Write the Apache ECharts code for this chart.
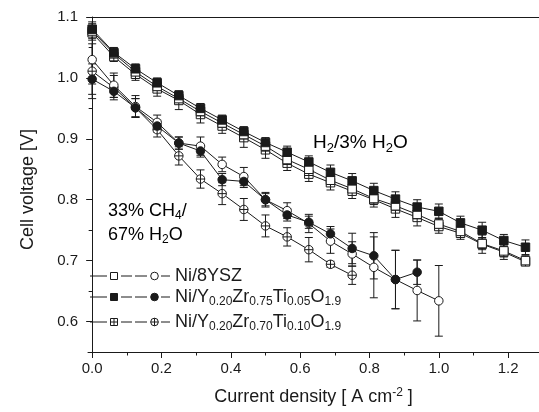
<!DOCTYPE html>
<html><head><meta charset="utf-8">
<script src="https://cdn.jsdelivr.net/npm/echarts@6/dist/echarts.min.js"></script>
<style>html,body{margin:0;padding:0;background:#fff}#c{width:539px;height:412px}</style>
</head><body><div id="c"></div>
<script>
// ---- data ----
const currentDensity = [0, 0.0625, 0.125, 0.1875, 0.25, 0.3125, 0.375, 0.4375, 0.5, 0.5625, 0.625, 0.6875, 0.75, 0.8125, 0.875, 0.9375, 1.0, 1.0625, 1.125, 1.1875, 1.25];

// H2 / 3% H2O
const h2Ysz    = [1.077, 1.040, 1.010, 0.986, 0.966, 0.945, 0.926, 0.907, 0.888, 0.866, 0.850, 0.832, 0.818, 0.802, 0.790, 0.776, 0.760, 0.748, 0.728, 0.716, 0.700];
const h2Yzt05  = [1.080, 1.042, 1.015, 0.992, 0.971, 0.950, 0.931, 0.912, 0.894, 0.878, 0.862, 0.845, 0.831, 0.815, 0.801, 0.788, 0.781, 0.762, 0.750, 0.733, 0.722];
const h2Yzt10  = [1.074, 1.035, 1.006, 0.982, 0.963, 0.940, 0.921, 0.902, 0.882, 0.860, 0.842, 0.828, 0.814, 0.800, 0.785, 0.771, 0.756, 0.745, 0.727, 0.714, 0.698];
const h2YszErr   = [0.012, 0.006, 0.006, 0.006, 0.006, 0.006, 0.006, 0.006, 0.006, 0.008, 0.008, 0.010, 0.010, 0.010, 0.010, 0.010, 0.010, 0.010, 0.010, 0.010, 0.008];
const h2Yzt05Err = [0.012, 0.008, 0.008, 0.008, 0.008, 0.008, 0.008, 0.008, 0.008, 0.010, 0.010, 0.012, 0.012, 0.012, 0.012, 0.012, 0.012, 0.011, 0.013, 0.010, 0.012];
const h2Yzt10Err = [0.012, 0.008, 0.010, 0.012, 0.015, 0.014, 0.012, 0.016, 0.014, 0.012, 0.012, 0.012, 0.012, 0.012, 0.014, 0.014, 0.011, 0.010, 0.015, 0.012, 0.006];

// 33% CH4 / 67% H2O
const ch4Ysz    = [1.030, 0.988, 0.953, 0.927, 0.893, 0.888, 0.858, 0.838, 0.800, 0.782, 0.761, 0.732, 0.711, 0.689, 0.669, 0.651, 0.634];
const ch4Yzt05  = [0.998, 0.978, 0.951, 0.921, 0.893, 0.880, 0.833, 0.830, 0.800, 0.775, 0.763, 0.744, 0.720, 0.708, 0.669, 0.681];
const ch4Yzt10  = [1.011, 0.984, 0.951, 0.915, 0.872, 0.834, 0.810, 0.784, 0.757, 0.739, 0.718, 0.694, 0.676];
const ch4YszErr   = [0.040, 0.020, 0.018, 0.012, 0.010, 0.015, 0.012, 0.015, 0.012, 0.013, 0.015, 0.020, 0.020, 0.050, 0.048, 0.050, 0.058];
const ch4Yzt05Err = [0.025, 0.010, 0.015, 0.010, 0.010, 0.010, 0.010, 0.010, 0.010, 0.010, 0.010, 0.012, 0.025, 0.038, 0.048, 0.020];
const ch4Yzt10Err = [0.045, 0.020, 0.015, 0.012, 0.015, 0.015, 0.018, 0.018, 0.018, 0.015, 0.020, 0.005, 0.015];

const xTickValues = [0, 0.2, 0.4, 0.6, 0.8, 1.0, 1.2];
const xMinorValues = [0.1, 0.3, 0.5, 0.7, 0.9, 1.1];
const yTickValues = [0.6, 0.7, 0.8, 0.9, 1.0, 1.1];
const yMinorValues = [0.65, 0.75, 0.85, 0.95, 1.05];

const legendLabels = [
  'Ni/8YSZ',
  'Ni/Y{s|0.20}Zr{s|0.75}Ti{s|0.05}O{s|1.9}',
  'Ni/Y{s|0.20}Zr{s|0.70}Ti{s|0.10}O{s|1.9}'
];
const h2Label = '{n|H}{s|2}{n|/3% H}{s|2}{n|O}';
const ch4Label1 = '{n|33% CH}{s|4}{n|/}';
const ch4Label2 = '{n|67% H}{s|2}{n|O}';
const xTitle = 'Current density [ A cm{p|-2} ]';
const yTitle = 'Cell voltage [V]';

// ---- rendering ----
const FONT = '"Liberation Sans", Arial, Helvetica, sans-serif';
const INK = '#1a1a1a';
function richSub(size) {
  return {
    n: {fontSize: size, fontFamily: FONT, color: INK},
    s: {fontSize: Math.round(size * 0.67), fontFamily: FONT, color: INK, padding: [10, 0, 0, 0]}
  };
}

const crossSquare = 'path://M0,0L10,0L10,10L0,10Z M0,3.4L10,3.4 M0,6.6L10,6.6 M5,0L5,10';
const crossCircle = 'path://M10,5A5,5,0,1,1,0,5A5,5,0,1,1,10,5Z M5,0L5,10 M0,5L10,5';

function pairs(vals) { return vals.map((v, i) => [currentDensity[i], v]); }

function lineSeries(vals, symbol, fill) {
  return {
    type: 'line', data: pairs(vals), symbol: symbol, symbolSize: 8.5,
    showAllSymbol: true, z: 5, animation: false, silent: true,
    lineStyle: {color: INK, width: 1},
    itemStyle: {color: fill, borderColor: INK, borderWidth: 1}
  };
}

function errSeries(vals, errs) {
  const data = vals.map((v, i) => [currentDensity[i], v - errs[i], v + errs[i]]);
  return {
    type: 'custom', data: data, z: 3, animation: false, silent: true,
    encode: {x: 0, y: [1, 2]},
    renderItem: function (params, api) {
      const x = api.value(0);
      const p1 = api.coord([x, api.value(2)]);
      const p2 = api.coord([x, api.value(1)]);
      const w = 4;
      const st = {stroke: INK, lineWidth: 1};
      return {type: 'group', children: [
        {type: 'line', shape: {x1: p1[0], y1: p1[1], x2: p2[0], y2: p2[1]}, style: st},
        {type: 'line', shape: {x1: p1[0] - w, y1: p1[1], x2: p1[0] + w, y2: p1[1]}, style: st},
        {type: 'line', shape: {x1: p2[0] - w, y1: p2[1], x2: p2[0] + w, y2: p2[1]}, style: st}
      ]};
    }
  };
}

// legend graphics
function legendRow(y, kind, label) {
  const st = {stroke: INK, lineWidth: 1};
  const els = [
    {type: 'line', shape: {x1: 90, y1: y, x2: 107, y2: y}, style: st},
    {type: 'line', shape: {x1: 121, y1: y, x2: 132, y2: y}, style: st},
    {type: 'line', shape: {x1: 135, y1: y, x2: 147, y2: y}, style: st},
    {type: 'line', shape: {x1: 161, y1: y, x2: 170, y2: y}, style: st}
  ];
  const sq = {type: 'rect', shape: {x: 110.5, y: y - 3.5, width: 7, height: 7},
    style: {fill: kind === 'filled' ? INK : '#fff', stroke: INK, lineWidth: 1}};
  const ci = {type: 'circle', shape: {cx: 154.5, cy: y, r: 3.8},
    style: {fill: kind === 'filled' ? INK : '#fff', stroke: INK, lineWidth: 1}};
  els.push(sq, ci);
  if (kind === 'cross') {
    els.push({type: 'line', shape: {x1: 114, y1: y - 3.5, x2: 114, y2: y + 3.5}, style: st});
    els.push({type: 'line', shape: {x1: 110.5, y1: y, x2: 117.5, y2: y}, style: st});
    els.push({type: 'line', shape: {x1: 154.5, y1: y - 3.8, x2: 154.5, y2: y + 3.8}, style: st});
    els.push({type: 'line', shape: {x1: 150.7, y1: y, x2: 158.3, y2: y}, style: st});
  }
  els.push({type: 'text', x: 175, y: y,
    style: {text: label, rich: richSub(18), fontSize: 18, fontFamily: FONT, fill: INK, verticalAlign: 'middle', align: 'left'}});
  return els;
}

const legendKinds = ['open', 'filled', 'cross'];
const legendYs = [276, 297, 322];
let graphics = [];
legendKinds.forEach((k, i) => { graphics = graphics.concat(legendRow(legendYs[i], k, legendLabels[i])); });
graphics.push({type: 'text', x: 313, y: 143,
  style: {text: h2Label, rich: richSub(19), fontFamily: FONT, verticalAlign: 'middle', align: 'left'}});
graphics.push({type: 'text', x: 108, y: 211,
  style: {text: ch4Label1, rich: richSub(18), fontFamily: FONT, verticalAlign: 'middle', align: 'left'}});
graphics.push({type: 'text', x: 108, y: 235,
  style: {text: ch4Label2, rich: richSub(18), fontFamily: FONT, verticalAlign: 'middle', align: 'left'}});

const axisLineStyle = {show: true, lineStyle: {color: INK, width: 1}};
const chart = echarts.init(document.getElementById('c'), null, {renderer: 'canvas'});
chart.setOption({
  animation: false,
  backgroundColor: '#fff',
  textStyle: {fontFamily: FONT},
  grid: {left: 88, top: 17, right: 0, bottom: 60, containLabel: false},
  xAxis: [
    {type: 'value', min: -0.012, max: 1.289, position: 'bottom',
      axisLine: axisLineStyle, splitLine: {show: false},
      axisTick: {show: true, inside: false, length: 6, lineStyle: {color: INK}, customValues: xTickValues},
      axisLabel: {show: true, margin: 9, fontSize: 15, color: INK, fontFamily: FONT,
        customValues: xTickValues, formatter: v => v.toFixed(1)},
      name: xTitle, nameLocation: 'middle', nameGap: 35,
      nameTextStyle: {fontSize: 18, color: INK, fontFamily: FONT,
        rich: {p: {fontSize: 12, color: INK, fontFamily: FONT, padding: [0, 0, 9, 0]}}}},
    {type: 'value', min: -0.012, max: 1.289, position: 'bottom',
      axisLine: {show: false}, splitLine: {show: false}, axisLabel: {show: false},
      axisTick: {show: true, length: 3.5, lineStyle: {color: INK}, customValues: xMinorValues}},
    {type: 'value', min: -0.012, max: 1.289, position: 'top',
      axisLine: axisLineStyle, splitLine: {show: false}, axisLabel: {show: false}, axisTick: {show: false}}
  ],
  yAxis: [
    {type: 'value', min: 0.55, max: 1.1, position: 'left',
      axisLine: axisLineStyle, splitLine: {show: false},
      axisTick: {show: true, length: 6, lineStyle: {color: INK}, customValues: yTickValues},
      axisLabel: {show: true, margin: 10, fontSize: 15, color: INK, fontFamily: FONT,
        customValues: yTickValues, formatter: v => v.toFixed(1)},
      name: yTitle, nameLocation: 'middle', nameGap: 51, nameRotate: 90,
      nameTextStyle: {fontSize: 18, color: INK, fontFamily: FONT, padding: [0, 10, 0, 0]}},
    {type: 'value', min: 0.55, max: 1.1, position: 'left',
      axisLine: {show: false}, splitLine: {show: false}, axisLabel: {show: false},
      axisTick: {show: true, length: 3.5, lineStyle: {color: INK}, customValues: yMinorValues}}
  ],
  series: [
    errSeries(h2Ysz, h2YszErr),
    errSeries(h2Yzt05, h2Yzt05Err),
    errSeries(h2Yzt10, h2Yzt10Err),
    errSeries(ch4Ysz, ch4YszErr),
    errSeries(ch4Yzt05, ch4Yzt05Err),
    errSeries(ch4Yzt10, ch4Yzt10Err),
    lineSeries(h2Yzt10, crossSquare, '#fff'),
    lineSeries(h2Ysz, 'rect', '#fff'),
    lineSeries(h2Yzt05, 'rect', INK),
    lineSeries(ch4Yzt10, crossCircle, '#fff'),
    lineSeries(ch4Ysz, 'circle', '#fff'),
    lineSeries(ch4Yzt05, 'circle', INK)
  ],
  graphic: graphics
});
</script>
</body></html>
